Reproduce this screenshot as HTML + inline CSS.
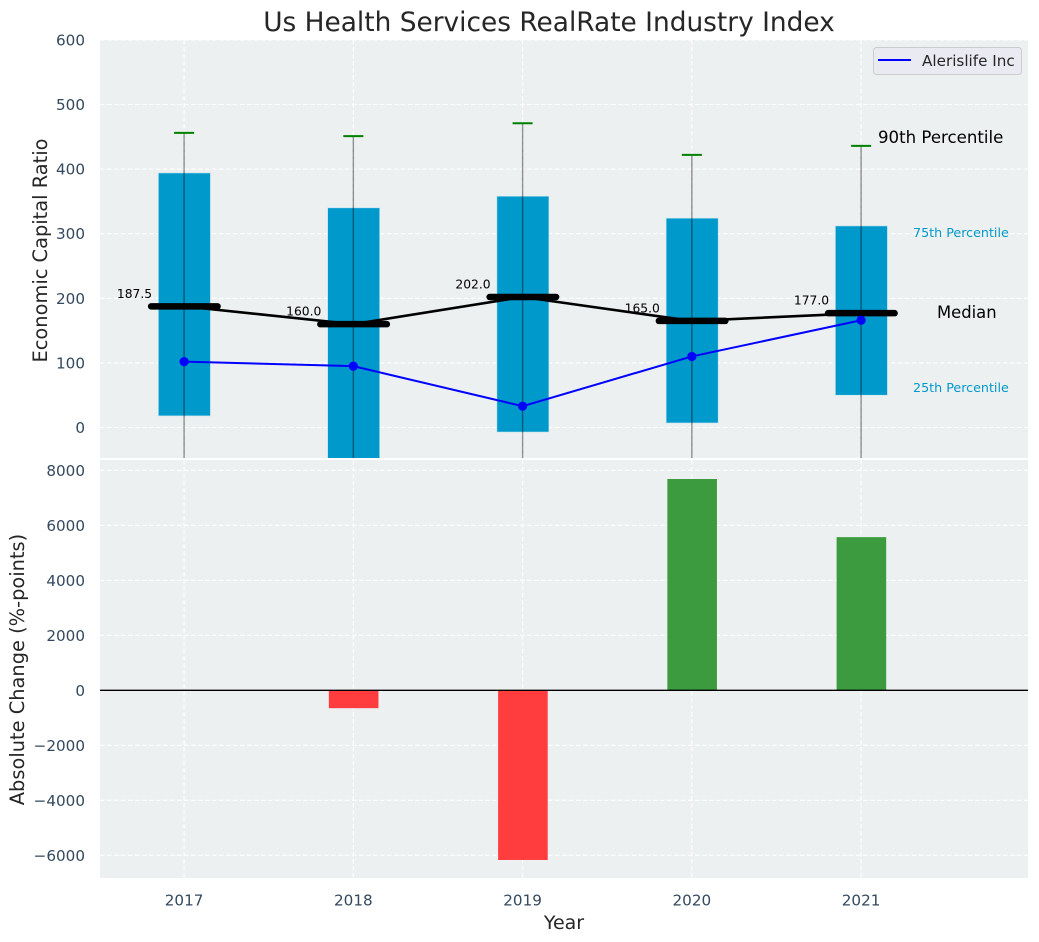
<!DOCTYPE html>
<html lang="en">
<head>
<meta charset="utf-8">
<title>Us Health Services RealRate Industry Index</title>
<style>
html,body{margin:0;padding:0;background:#fff}
svg{display:block}
text{font-family:"DejaVu Sans","Liberation Sans",sans-serif}
</style>
</head>
<body>
<svg id="chart" xmlns="http://www.w3.org/2000/svg" width="1039" height="942" viewBox="0 0 1039 942">
  <defs>
    <clipPath id="top-clip"><rect x="100" y="40" width="928" height="418"/></clipPath>
  </defs>
  <rect x="0" y="0" width="1039" height="942" fill="#ffffff"/>
  <text x="549" y="31" text-anchor="middle" font-size="26.4" fill="#262626">Us Health Services RealRate Industry Index</text>
  <rect x="100" y="40" width="928" height="418" fill="#ecf0f1"/>
  <rect x="100" y="460" width="928" height="418" fill="#ecf0f1"/>
  <g id="top-grid"></g>
  <g id="bottom-grid"></g>
  <g id="top-marks" clip-path="url(#top-clip)"></g>
  <g id="bottom-marks"></g>
  <g id="labels"></g>
  <g id="ticks"></g>
  <text transform="translate(47,250.5) rotate(-90)" text-anchor="middle" font-size="19.4" fill="#262626">Economic Capital Ratio</text>
  <text transform="translate(24,669.5) rotate(-90)" text-anchor="middle" font-size="19.4" fill="#262626">Absolute Change (%-points)</text>
  <text x="564" y="929" text-anchor="middle" font-size="19" fill="#262626">Year</text>
  <text x="878" y="143" font-size="16.6" fill="#000000">90th Percentile</text>
  <text x="913" y="237" font-size="12.7" fill="#0099cc">75th Percentile</text>
  <text x="937" y="318" font-size="16.4" fill="#000000">Median</text>
  <text x="913" y="392" font-size="12.7" fill="#0099cc">25th Percentile</text>
  <g>
    <rect x="873.5" y="47.5" width="148" height="27" rx="3" fill="#eaeaf2" stroke="#cccccc" stroke-width="1"/>
    <line x1="878" y1="60" x2="911" y2="60" stroke="#0000ff" stroke-width="2"/>
    <text x="922" y="66" font-size="15.2" fill="#262626">Alerislife Inc</text>
  </g>
</svg>
<script>
const years = ["2017", "2018", "2019", "2020", "2021"];
const p90 = [456, 451, 471, 422, 436];
const p75 = [394, 340, 358, 324, 312];
const p50 = [187.5, 160.0, 202.0, 165.0, 177.0];
const p25 = [18, -80, -7, 7, 50];
const p10 = [-150, -180, -150, -150, -120];
const company = [102, 95, 33, 110, 166];
const change = [0, -650, -6170, 7684, 5570];
const topTicks = [0, 100, 200, 300, 400, 500, 600];
const bottomTicks = [-6000, -4000, -2000, 0, 2000, 4000, 6000, 8000];

const NS = 'http://www.w3.org/2000/svg';
const xPos = i => 184.1 + i * 169.25;
const yTop = v => 427.5 - v * 0.646;
const yBottom = v => 690.3 - v * 0.0275;
const make = (parent, tag, props) => {
  const el = document.createElementNS(NS, tag);
  for (const k in props) el.setAttribute(k, props[k]);
  parent.appendChild(el);
  return el;
};
const topGrid = document.getElementById('top-grid');
const bottomGrid = document.getElementById('bottom-grid');
const topMarks = document.getElementById('top-marks');
const bottomMarks = document.getElementById('bottom-marks');
const labels = document.getElementById('labels');
const ticks = document.getElementById('ticks');
const gridStyle = {stroke: '#ffffff', 'stroke-width': 1.1, 'stroke-dasharray': '4.5 2.5'};

topTicks.forEach(v => {
  const y = yTop(v);
  const g = make(topGrid, 'line', {x1: 100, x2: 1028, y1: y, y2: y, ...gridStyle});
  
  
  const t = make(ticks, 'text', {x: 85, y: y + 5.5, 'text-anchor': 'end', 'font-size': 15.2, fill: '#34495e'});
  t.textContent = String(v);
  
  
});
bottomTicks.forEach(v => {
  const y = yBottom(v);
  const g = make(bottomGrid, 'line', {x1: 100, x2: 1028, y1: y, y2: y, ...gridStyle});
  
  
  const t = make(ticks, 'text', {x: 85, y: y + 5.5, 'text-anchor': 'end', 'font-size': 15.2, fill: '#34495e'});
  t.textContent = String(v).replace('-', '\u2212');
  
  
});
years.forEach((yr, i) => {
  const x = xPos(i);
  const a = make(topGrid, 'line', {x1: x, x2: x, y1: 40, y2: 458, ...gridStyle});
  
  
  const b = make(bottomGrid, 'line', {x1: x, x2: x, y1: 460, y2: 878, ...gridStyle});
  
  
  const t = make(ticks, 'text', {x: x, y: 905.5, 'text-anchor': 'middle', 'font-size': 15.2, fill: '#34495e'});
  t.textContent = yr;
  
  
});

years.forEach((yr, i) => {
  const x = xPos(i);
  const box = make(topMarks, 'rect', {x: x - 25.7, y: yTop(p75[i]), width: 52, height: yTop(p25[i]) - yTop(p75[i]), fill: '#0099cc', stroke: '#bfe3ee', 'stroke-width': 0.6});
  
  
});
const medianLine = make(topMarks, 'polyline', {points: p50.map((v, i) => xPos(i) + ',' + yTop(v)).join(' '), fill: 'none', stroke: '#000000', 'stroke-width': 2.6});


years.forEach((yr, i) => {
  const x = xPos(i);
  const m = make(topMarks, 'line', {x1: x - 33, x2: x + 33.5, y1: yTop(p50[i]), y2: yTop(p50[i]), stroke: '#000000', 'stroke-width': 6.5, 'stroke-linecap': 'round'});
  
  
  const w = make(topMarks, 'line', {x1: x, x2: x, y1: yTop(p90[i]), y2: yTop(p10[i]), stroke: '#000000', 'stroke-opacity': 0.42, 'stroke-width': 1.4});
  
  
  const c = make(topMarks, 'line', {x1: x - 10, x2: x + 10, y1: yTop(p90[i]), y2: yTop(p90[i]), stroke: '#008000', 'stroke-width': 2});
  
  
  const t = make(labels, 'text', {x: x - 32, y: yTop(p50[i]) - 8.5, 'text-anchor': 'end', 'font-size': 12.3, fill: '#000000'});
  t.textContent = p50[i].toFixed(1);
  
  
});
const companyLine = make(topMarks, 'polyline', {points: company.map((v, i) => xPos(i) + ',' + yTop(v)).join(' '), fill: 'none', stroke: '#0000ff', 'stroke-width': 2});


company.forEach((v, i) => {
  const p = make(topMarks, 'circle', {cx: xPos(i), cy: yTop(v), r: 4.6, fill: '#0000ff'});
  
  
});

change.forEach((v, i) => {
  if (v === 0) return;
  const x = xPos(i);
  const y0 = yBottom(Math.max(v, 0));
  const y1 = yBottom(Math.min(v, 0));
  const b = make(bottomMarks, 'rect', {x: x - 24.5, y: y0, width: 49.6, height: y1 - y0, fill: v > 0 ? '#3b9b3e' : '#ff3c3e'});
  
  
});
const zero = make(bottomMarks, 'line', {x1: 100, x2: 1028, y1: yBottom(0), y2: yBottom(0), stroke: '#000000', 'stroke-width': 1.3});


</script>
</body>
</html>
